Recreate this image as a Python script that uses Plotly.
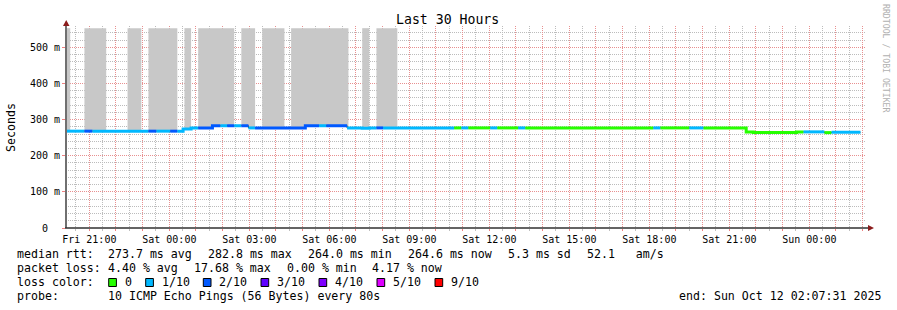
import pandas as pd
import plotly.graph_objects as go

# ---------------- data ----------------
START = "2025-10-10 20:07:31"
END = "2025-10-12 02:07:31"

# median rtt step segments (each starts where the previous ended)
seg_end = [
    "2025-10-10 20:49", "2025-10-10 21:07", "2025-10-10 23:13", "2025-10-10 23:31",
    "2025-10-11 00:02", "2025-10-11 00:18", "2025-10-11 00:31", "2025-10-11 00:49",
    "2025-10-11 01:05", "2025-10-11 01:37", "2025-10-11 01:55", "2025-10-11 02:10",
    "2025-10-11 02:26", "2025-10-11 02:42", "2025-10-11 02:58", "2025-10-11 03:13",
    "2025-10-11 05:06", "2025-10-11 05:37", "2025-10-11 05:53", "2025-10-11 06:40",
    "2025-10-11 07:14", "2025-10-11 07:30", "2025-10-11 07:46", "2025-10-11 08:01",
    "2025-10-11 10:41", "2025-10-11 10:57", "2025-10-11 11:13", "2025-10-11 12:02",
    "2025-10-11 12:18", "2025-10-11 13:05", "2025-10-11 13:21", "2025-10-11 18:09",
    "2025-10-11 18:25", "2025-10-11 19:30", "2025-10-11 20:02", "2025-10-11 21:38",
    "2025-10-11 21:54", "2025-10-11 23:31", "2025-10-11 23:47", "2025-10-12 00:34",
    "2025-10-12 00:50", "2025-10-12 01:55",
]
seg_rtt = [
    0.268, 0.268, 0.268, 0.268, 0.268, 0.268, 0.268, 0.274,
    0.277, 0.277, 0.283, 0.283, 0.283, 0.283, 0.283, 0.277,
    0.277, 0.283, 0.283, 0.283, 0.277, 0.276, 0.277, 0.277,
    0.277, 0.277, 0.277, 0.277, 0.277, 0.277, 0.277, 0.277,
    0.277, 0.277, 0.277, 0.277, 0.266, 0.264, 0.266, 0.266,
    0.264, 0.265,
]
seg_loss = [
    1, 2, 1, 2, 1, 2, 1, 1,
    1, 2, 2, 1, 2, 1, 2, 1,
    2, 2, 1, 2, 1, 1, 1, 2,
    1, 0, 1, 0, 1, 0, 1, 0,
    1, 0, 1, 0, 0, 0, 0, 1,
    0, 1,
]

# smoke (ping spread) intervals, reaching above the graph
smoke_start = ["2025-10-10 20:07:31", "2025-10-10 20:49", "2025-10-10 22:26", "2025-10-10 23:13",
               "2025-10-11 00:34", "2025-10-11 01:05", "2025-10-11 02:42", "2025-10-11 03:29",
               "2025-10-11 04:34", "2025-10-11 07:14", "2025-10-11 07:46"]
smoke_end = ["2025-10-10 20:17", "2025-10-10 21:38", "2025-10-10 22:57", "2025-10-11 00:18",
             "2025-10-11 00:49", "2025-10-11 02:26", "2025-10-11 03:13", "2025-10-11 04:19",
             "2025-10-11 06:43", "2025-10-11 07:30", "2025-10-11 08:33"]
smoke_top = 0.553

loss_levels = [0, 1, 2, 3, 4, 5, 9]
loss_labels = ["0", "1/10", "2/10", "3/10", "4/10", "5/10", "9/10"]
loss_colors = ["#26ff00", "#00b8ff", "#0059ff", "#5e00ff", "#7e00ff", "#dd00ff", "#ff0000"]

y_tickvals = [0, 0.1, 0.2, 0.3, 0.4, 0.5]
y_ticktext = ["0\u00a0\u00a0", "100 m", "200 m", "300 m", "400 m", "500 m"]

x_tick_hours = pd.date_range("2025-10-10 21:00", "2025-10-12 02:00", freq="1h")
x_label_every = 3

stats_rtt = ["273.7 ms avg", "282.8 ms max", "264.0 ms min", "264.6 ms now", "5.3 ms sd", "52.1   am/s"]
stats_loss = ["4.40 % avg", "17.68 % max", "0.00 % min", "4.17 % now"]
probe_text = "10 ICMP Echo Pings (56 Bytes) every 80s"
end_text = "end: Sun Oct 12 02:07:31 2025"
title_text = "Last 30 Hours"

# ---------------- geometry ----------------
W, H = 897, 310
L, R, T, B = 66, 31, 26, 82
PW, PH = W - L - R, H - T - B
MONO = "DejaVu Sans Mono, monospace"


def px(x):
    return (x - L) / PW


def py(y):
    return (H - B - y) / PH


starts = [pd.Timestamp(START)] + [pd.Timestamp(t) for t in seg_end[:-1]]
ends = [pd.Timestamp(t) for t in seg_end]
color_of = dict(zip(loss_levels, loss_colors))

fig = go.Figure()


def val_at(t):
    for s, e, v in zip(starts, ends, seg_rtt):
        if s <= t < e:
            return v
    return seg_rtt[-1]


# smoke polygons whose bottom follows the median step line
for a_s, b_s in zip(smoke_start, smoke_end):
    a, b = pd.Timestamp(a_s), pd.Timestamp(b_s)
    pts = [(a, val_at(a))]
    for s in starts[1:]:
        if a < s < b:
            pts.append((s, val_at(s - pd.Timedelta(seconds=1))))
            pts.append((s, val_at(s)))
    pts.append((b, val_at(b - pd.Timedelta(seconds=1))))
    poly = [(a, smoke_top), (b, smoke_top)] + pts[::-1]
    fig.add_trace(go.Scatter(
        x=[p[0] for p in poly], y=[p[1] for p in poly],
        fill="toself", fillcolor="#c8c8c8", mode="lines",
        line=dict(width=0, color="#c8c8c8"), hoverinfo="skip"))

# underlying dark median line
fig.add_trace(go.Scatter(
    x=starts + [ends[-1]], y=seg_rtt + [seg_rtt[-1]],
    mode="lines", line=dict(color="#202020", width=1, shape="hv"), hoverinfo="skip"))

# coloured runs by loss
i = 0
n = len(seg_rtt)
while i < n:
    j = i
    while j + 1 < n and seg_loss[j + 1] == seg_loss[i]:
        j += 1
    xs = starts[i:j + 1] + [ends[j]]
    ys = seg_rtt[i:j + 1] + [seg_rtt[j]]
    fig.add_trace(go.Scatter(
        x=xs, y=ys, mode="lines",
        line=dict(color=color_of[seg_loss[i]], width=3, shape="hv"), hoverinfo="skip"))
    i = j + 1

x_ticktext = [t.strftime("%a %H:%M") if k % x_label_every == 0 else "" for k, t in enumerate(x_tick_hours)]

RED_GRID = "#e89090"
GRAY_GRID = "#bcbcbc"
DASH = "1px,1px"

fig.update_layout(
    width=W, height=H,
    margin=dict(l=L, r=R, t=T, b=B),
    paper_bgcolor="white", plot_bgcolor="white",
    showlegend=False,
    font=dict(family=MONO, size=10, color="#000000"),
    xaxis=dict(
        type="date", range=[START, END],
        tickmode="array", tickvals=list(x_tick_hours), ticktext=x_ticktext,
        showgrid=True, gridcolor=RED_GRID, griddash=DASH, gridwidth=1,
        ticks="outside", ticklen=2, tickcolor="#f08080",
        tickfont=dict(family=MONO, size=10, color="#000000"),
        zeroline=False, showline=False,
        minor=dict(dtick=1800000, tick0="2025-10-10 20:30", showgrid=True,
                   gridcolor=GRAY_GRID, griddash=DASH, gridwidth=1,
                   ticks="outside", ticklen=2, tickcolor="#c0c0c0"),
    ),
    yaxis=dict(
        range=[0, 0.559],
        tickmode="array", tickvals=y_tickvals, ticktext=y_ticktext,
        showgrid=True, gridcolor=RED_GRID, griddash=DASH, gridwidth=1,
        ticks="outside", ticklen=3, tickcolor="#f08080",
        tickfont=dict(family=MONO, size=10, color="#000000"),
        zeroline=False, showline=False,
        minor=dict(dtick=0.02, tick0=0, showgrid=True,
                   gridcolor=GRAY_GRID, griddash=DASH, gridwidth=1),
    ),
)

shapes = []
# axes with arrows
shapes.append(dict(type="line", xref="paper", yref="paper",
                   x0=px(66), x1=px(66), y0=py(228), y1=py(23),
                   line=dict(color="#707070", width=2)))
shapes.append(dict(type="line", xref="paper", yref="paper",
                   x0=px(65), x1=px(869), y0=py(228), y1=py(228),
                   line=dict(color="#303030", width=1.5)))
shapes.append(dict(type="path", xref="paper", yref="paper",
                   path=f"M {px(63)} {py(26)} L {px(69.5)} {py(26)} L {px(66.2)} {py(20)} Z",
                   fillcolor="#8b1c1c", line=dict(width=0)))
shapes.append(dict(type="path", xref="paper", yref="paper",
                   path=f"M {px(868)} {py(225)} L {px(868)} {py(231)} L {px(874)} {py(228)} Z",
                   fillcolor="#8b1c1c", line=dict(width=0)))

annotations = []


def txt(x, y, s, size=11.6, color="#000000", xanchor="left", angle=0):
    annotations.append(dict(xref="paper", yref="paper", x=px(x), y=py(y), text=s,
                            showarrow=False, xanchor=xanchor, yanchor="middle",
                            textangle=angle, borderpad=0,
                            font=dict(family=MONO, size=size, color=color)))


txt(447.5, 19.5, title_text, size=13.2, xanchor="center")
txt(11, 127, "Seconds", size=11.6, xanchor="center", angle=-90)
txt(886, 59, "RRDTOOL / TOBI OETIKER", size=8.2, color="#b0b0b0", xanchor="center", angle=90)

row_y = [254.3, 268.3, 282.3, 296.3]
txt(16, row_y[0], "median rtt:")
for xx, s in zip([107.3, 207.3, 307.3, 407.3, 507.3, 585.7], stats_rtt):
    txt(xx, row_y[0], s)
txt(16, row_y[1], "packet loss:")
for xx, s in zip([107.3, 193, 286, 371], stats_loss):
    txt(xx, row_y[1], s)
txt(16, row_y[2], "loss color:")
sq_x = [108.7, 145.7, 203.3, 261, 319, 377, 435]
for xx, lab, col in zip(sq_x, loss_labels, loss_colors):
    shapes.append(dict(type="rect", xref="paper", yref="paper",
                       x0=px(xx), x1=px(xx + 7.7), y0=py(286.5), y1=py(278.5),
                       fillcolor=col, line=dict(color="#000000", width=1)))
    txt(xx + 14.8, row_y[2], lab)
txt(16, row_y[3], "probe:")
txt(107.3, row_y[3], probe_text)
txt(678, row_y[3], end_text)

fig.update_layout(shapes=shapes, annotations=annotations)
fig.write_html("out.html")
